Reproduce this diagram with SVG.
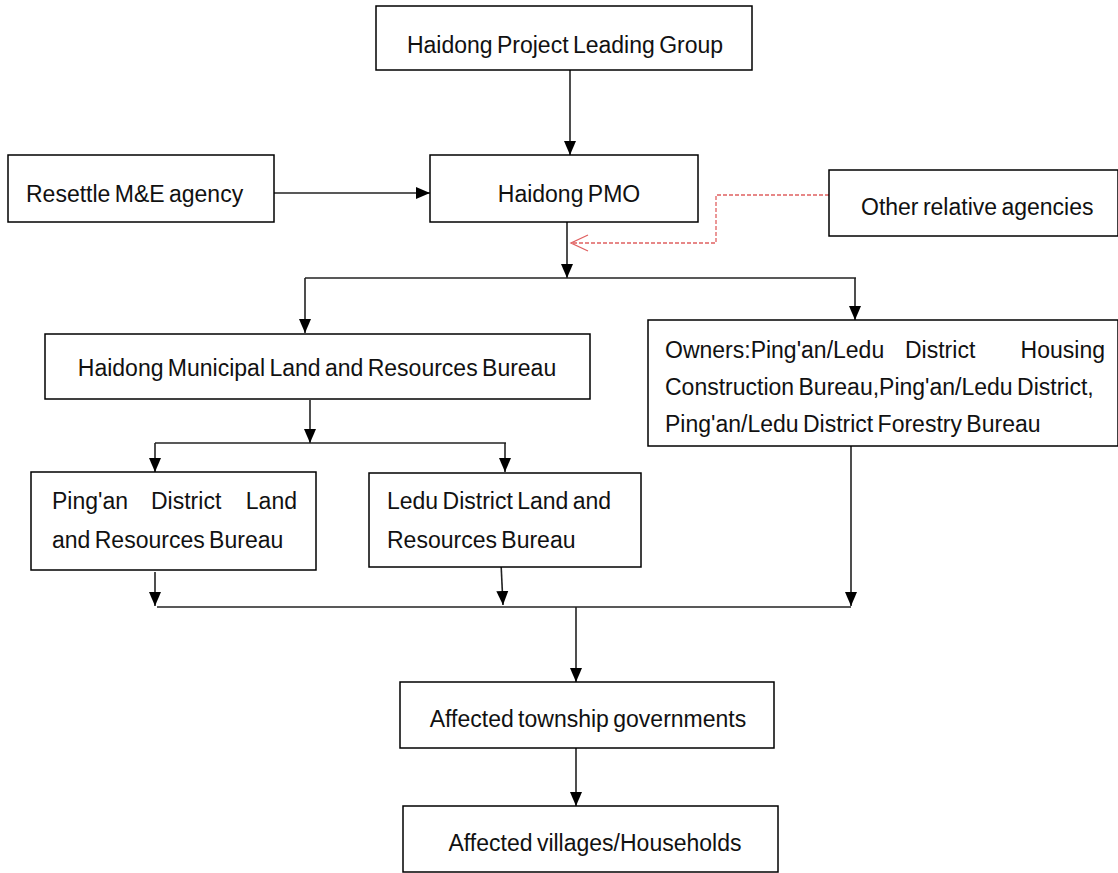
<svg xmlns="http://www.w3.org/2000/svg" width="1118" height="873" viewBox="0 0 1118 873">
<style>
.box{fill:#fff;stroke:#000;stroke-width:1.5}
.t{font-family:"Liberation Sans",Arial,sans-serif;font-size:23px;word-spacing:-2px;fill:#111}
.c{text-anchor:middle}
.ln{fill:none;stroke:#222;stroke-width:1.6}
.dash{fill:none;stroke:#e06060;stroke-width:1.3;stroke-dasharray:4,2}
</style>
<defs>
<marker id="ah" markerWidth="15" markerHeight="14" refX="14" refY="6.5" orient="auto" markerUnits="userSpaceOnUse">
<path d="M0,0.5 L14,6.5 L0,12.5 Z" fill="#000"/>
</marker>
<marker id="oh" markerWidth="20" markerHeight="20" refX="18" refY="9" orient="auto" markerUnits="userSpaceOnUse">
<path d="M1,1 L18,9 L1,17" fill="none" stroke="#e06060" stroke-width="1.3"/>
</marker>
</defs>
<g id="connectors">
<line class="ln" x1="570" y1="70" x2="570" y2="155" marker-end="url(#ah)"/>
<line class="ln" x1="274" y1="193" x2="430" y2="193" marker-end="url(#ah)"/>
<path class="dash" d="M829,195 H716 V243 H571" marker-end="url(#oh)"/>
<line class="ln" x1="567" y1="222" x2="567" y2="278" marker-end="url(#ah)"/>
<line class="ln" x1="305" y1="278" x2="856" y2="278"/>
<line class="ln" x1="305" y1="278" x2="305" y2="333" marker-end="url(#ah)"/>
<line class="ln" x1="855" y1="278" x2="855" y2="320" marker-end="url(#ah)"/>
<line class="ln" x1="310" y1="400" x2="310" y2="443" marker-end="url(#ah)"/>
<line class="ln" x1="155" y1="443" x2="506" y2="443"/>
<line class="ln" x1="155" y1="443" x2="155" y2="472" marker-end="url(#ah)"/>
<line class="ln" x1="505" y1="443" x2="505" y2="472" marker-end="url(#ah)"/>
<line class="ln" x1="155" y1="572" x2="155" y2="606" marker-end="url(#ah)"/>
<line class="ln" x1="501" y1="563" x2="503" y2="605" marker-end="url(#ah)"/>
<line class="ln" x1="851" y1="446" x2="851" y2="606" marker-end="url(#ah)"/>
<line class="ln" x1="157" y1="607" x2="851" y2="607"/>
<line class="ln" x1="576" y1="607" x2="576" y2="682" marker-end="url(#ah)"/>
<line class="ln" x1="576" y1="748" x2="576" y2="806" marker-end="url(#ah)"/>
</g>
<g id="leading-group">
<rect class="box" x="376" y="6" width="376" height="64"/>
<text class="t c" x="565" y="53">Haidong Project Leading Group</text>
</g>
<g id="resettle">
<rect class="box" x="8" y="155" width="266" height="67"/>
<text class="t" x="26" y="202">Resettle M&amp;E agency</text>
</g>
<g id="pmo">
<rect class="box" x="430" y="155" width="268" height="67"/>
<text class="t c" x="569" y="202">Haidong PMO</text>
</g>
<g id="other">
<rect class="box" x="829" y="170" width="289" height="66"/>
<text class="t" x="861" y="215">Other relative agencies</text>
</g>
<g id="municipal">
<rect class="box" x="45" y="334" width="545" height="65"/>
<text class="t c" x="317" y="376">Haidong Municipal Land and Resources Bureau</text>
</g>
<g id="owners">
<rect class="box" x="648" y="320" width="470" height="126"/>
<text class="t" x="665" y="358">Owners:Ping'an/Ledu</text>
<text class="t" x="905" y="358">District</text>
<text class="t" x="1105" y="358" text-anchor="end">Housing</text>
<text class="t" x="665" y="395">Construction Bureau,Ping'an/Ledu District,</text>
<text class="t" x="665" y="432">Ping'an/Ledu District Forestry Bureau</text>
</g>
<g id="pingan">
<rect class="box" x="31" y="472" width="285" height="98"/>
<text class="t" x="52" y="509">Ping'an</text>
<text class="t" x="151" y="509">District</text>
<text class="t" x="297" y="509" text-anchor="end">Land</text>
<text class="t" x="52" y="548">and Resources Bureau</text>
</g>
<g id="ledu">
<rect class="box" x="369" y="473" width="272" height="94"/>
<text class="t" x="387" y="509">Ledu District Land and</text>
<text class="t" x="387" y="548">Resources Bureau</text>
</g>
<g id="township">
<rect class="box" x="400" y="682" width="374" height="66"/>
<text class="t c" x="588" y="727">Affected township governments</text>
</g>
<g id="villages">
<rect class="box" x="403" y="806" width="375" height="66"/>
<text class="t c" x="595" y="851">Affected villages/Households</text>
</g>
</svg>
